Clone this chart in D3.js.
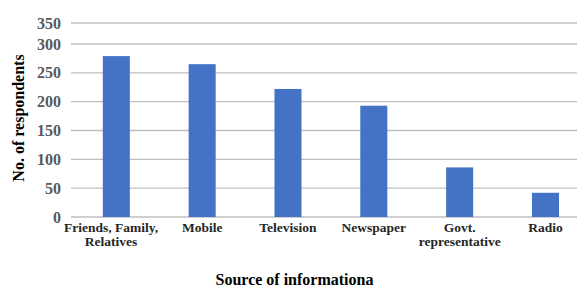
<!DOCTYPE html>
<html><head><meta charset="utf-8">
<script src="https://cdn.jsdelivr.net/npm/d3@7"></script>
<style>body{margin:0;background:#fff}svg{display:block}text{font-family:'Liberation Serif','Times New Roman',serif}</style>
</head><body>
<script>
const categories = [["Friends, Family,","Relatives"],["Mobile"],["Television"],["Newspaper"],["Govt.","representative"],["Radio"]];
const values = [279, 265, 222, 193, 86, 42];
const yTicks = [0, 50, 100, 150, 200, 250, 300, 350];
const yTitle = "No. of respondents";
const xTitle = "Source of informationa";

const W = 577, H = 287;
const FONT = "'Liberation Serif', 'Times New Roman', serif";
const svg = d3.select("body").append("svg").attr("width", W).attr("height", H);
const keys = categories.map(c => c.join(" "));

const x = d3.scaleBand().domain(keys).range([73.4, 588.4]).padding(0);
const y = d3.scaleLinear().domain([0, 300, 350]).range([217, 44, 23]);
const barW = x.bandwidth() * 0.315;

// gridlines
svg.append("g").selectAll("line").data(yTicks).join("line")
  .attr("x1", 71).attr("x2", 590)
  .attr("y1", d => y(d)).attr("y2", d => y(d))
  .attr("stroke", "#bfbfbf").attr("stroke-width", 1.3);

// bars
svg.append("g").selectAll("rect").data(values).join("rect")
  .attr("x", (d, i) => x(keys[i]) + (x.bandwidth() - barW) / 2)
  .attr("width", barW)
  .attr("y", d => y(d))
  .attr("height", d => y(0) - y(d))
  .attr("fill", "#4472c4");

// y tick labels
svg.append("g").selectAll("text").data(yTicks).join("text")
  .attr("x", 61).attr("y", d => y(d) + 5.5)
  .attr("text-anchor", "end")
  .style("font-family", FONT)
  .attr("font-weight", "bold").attr("font-size", 16)
  .attr("fill", "#595959")
  .text(d => d);

// x category labels
const cat = svg.append("g").selectAll("text").data(categories).join("text")
  .attr("text-anchor", "middle")
  .style("font-family", FONT)
  .attr("font-weight", "bold").attr("font-size", 13.5)
  .attr("fill", "#262626");
cat.each(function(lines, i) {
  const cx = x(keys[i]) + x.bandwidth() / 2;
  const t = d3.select(this);
  t.selectAll("tspan").data(lines).join("tspan")
    .attr("x", cx).attr("y", (d, j) => 231.5 + j * 14.5).text(d => d);
  // first label is pushed against the chart's left edge, as in the original
  if (i === 0) {
    const bb = this.getBBox();
    t.selectAll("tspan").attr("x", cx + (64 - bb.x));
  }
});

// axis titles
svg.append("text")
  .attr("transform", "translate(24," + ((y(0) + y(350)) / 2 - 2) + ") rotate(-90)")
  .attr("text-anchor", "middle")
  .style("font-family", FONT)
  .attr("font-weight", "bold").attr("font-size", 16)
  .attr("fill", "#000")
  .text(yTitle);

svg.append("text")
  .attr("x", 294.5).attr("y", 285)
  .attr("text-anchor", "middle")
  .style("font-family", FONT)
  .attr("font-weight", "bold").attr("font-size", 16)
  .attr("fill", "#000")
  .text(xTitle);
</script>
</body></html>
